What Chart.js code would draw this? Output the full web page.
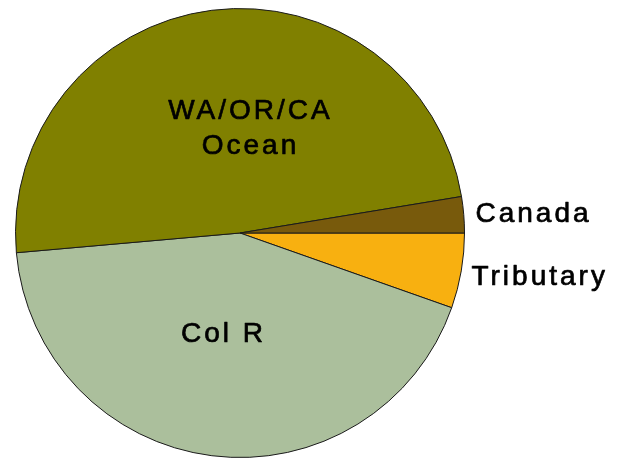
<!DOCTYPE html>
<html>
<head>
<meta charset="utf-8">
<script src="https://cdn.jsdelivr.net/npm/chart.js@4.4.1/dist/chart.umd.min.js"></script>
<style>
    body { margin: 0; background: #fff; }
    #wrap { width: 621px; height: 459px; }
</style>
</head>
<body>
<div id="wrap"><canvas id="catchPie" width="621" height="459"></canvas></div>
<script>
// Share of catch by area (percent), clockwise from 3 o'clock
const areas = ["Tributary", "Col R", "WA/OR/CA Ocean", "Canada"];
const shares = [5.4, 43.2, 48.8, 2.6];
const sliceColors = ["#f8b010", "#abbf9c", "#808000", "#785a0c"];

// where each slice's label goes, relative to the pie centre, in radii
const labelSpots = [
    { lines: ["Tributary"], fx: 1.031, fy: [0.231], align: "left" },
    { lines: ["Col R"], fx: -0.08, fy: [0.484], align: "center" },
    { lines: ["WA/OR/CA", "Ocean"], fx: 0.04, fy: [-0.507, -0.351], align: "center" },
    { lines: ["Canada"], fx: 1.049, fy: [-0.049], align: "left" }
];

const sliceLabels = {
    id: "sliceLabels",
    afterDatasetsDraw(chart) {
        const ctx = chart.ctx;
        const arcs = chart.getDatasetMeta(0).data;
        ctx.save();
        ctx.font = "28px 'Liberation Sans', Arial, sans-serif";
        ctx.letterSpacing = "3px";
        ctx.fillStyle = "#000";
        ctx.strokeStyle = "#000";
        ctx.lineWidth = 0.7;
        ctx.lineJoin = "round";
        ctx.textBaseline = "alphabetic";
        arcs.forEach((arc, i) => {
            const spot = labelSpots[i];
            const r = arc.outerRadius;
            ctx.textAlign = spot.align;
            spot.lines.forEach((line, j) => {
                const shift = spot.align === "center" ? 1.5 : 0;
                const x = arc.x + spot.fx * r + shift;
                const y = arc.y + spot.fy[j] * r;
                ctx.fillText(line, x, y);
                ctx.strokeText(line, x, y);
            });
        });
        ctx.restore();
    }
};

new Chart(document.getElementById("catchPie").getContext("2d"), {
    type: "pie",
    data: {
        labels: areas,
        datasets: [{
            data: shares,
            backgroundColor: sliceColors,
            borderColor: "#1a1a1a",
            borderWidth: 1
        }]
    },
    options: {
        responsive: false,
        animation: false,
        rotation: 90,
        layout: { padding: { left: 15, right: 156, top: 8, bottom: 1 } },
        plugins: {
            legend: { display: false },
            tooltip: { enabled: false }
        }
    },
    plugins: [sliceLabels]
});
</script>
</body>
</html>
